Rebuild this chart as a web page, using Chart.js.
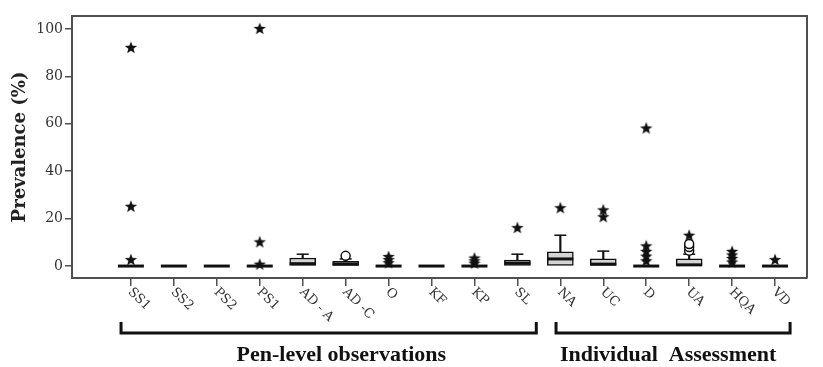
<!DOCTYPE html>
<html>
<head>
<meta charset="utf-8">
<script src="https://cdn.jsdelivr.net/npm/chart.js@4.4.1/dist/chart.umd.min.js"></script>
<style>
	html, body { margin: 0; padding: 0; background: #fff; }
	#wrap { width: 823px; height: 367px; }
</style>
</head>
<body>
<div id="wrap"><canvas id="boxChart"></canvas></div>
<script>
var categories = ['SS1', 'SS2', 'PS2', 'PS1', 'AD - A', 'AD -C', 'O', 'KF', 'KP', 'SL', 'NA', 'UC', 'D', 'UA', 'HQA', 'VD'];
var boxQ1     = [0, 0, 0, 0, 0,   0,   0, 0, 0, 0,   0,  0,   0, 0,   0, 0];
var boxMedian = [0, 0, 0, 0, 1,   0.8, 0, 0, 0, 1.2, 3,  0.8, 0, 0.5, 0, 0];
var boxQ3     = [0, 0, 0, 0, 3.4, 2,   0, 0, 0, 2.5, 6,  3,   0, 3,   0, 0];
var whiskerHi = [0, 0, 0, 0, 5,   3,   0, 0, 0, 5,   13, 6.3, 0, 5,   0, 0];

// extreme values (stars) and outliers (circles): [category index, value]
var starPoints = [
	[0, 92], [0, 25], [0, 2.5],
	[3, 100], [3, 10], [3, 0.6],
	[6, 1.2], [6, 2.5], [6, 3.8],
	[8, 1], [8, 2], [8, 3.2],
	[9, 16],
	[10, 24.4],
	[11, 20.6], [11, 23.5],
	[12, 2], [12, 4], [12, 6], [12, 8.3], [12, 58],
	[13, 12.8],
	[14, 1.5], [14, 3], [14, 4.5], [14, 6],
	[15, 2.5]
];
var circlePoints = [[5, 4.3], [13, 6.5], [13, 8], [13, 9.3]];

var yTicks = [0, 20, 40, 60, 80, 100];
var groups = [
	{ label: 'Pen-level observations', from: -0.23, to: 9.44, center: 4.9 },
	{ label: 'Individual  Assessment', from: 9.9, to: 15.35, center: 12.51 }
];

// 5-point star marker
function makeStar(size) {
	var c = document.createElement('canvas');
	c.width = size; c.height = size;
	var g = c.getContext('2d');
	var cx = size / 2, cy = size / 2, ro = size / 2 - 0.5, ri = ro * 0.42;
	g.beginPath();
	for (var k = 0; k < 10; k++) {
		var r = k % 2 === 0 ? ro : ri;
		var a = -Math.PI / 2 + k * Math.PI / 5;
		if (k === 0) g.moveTo(cx + r * Math.cos(a), cy + r * Math.sin(a));
		else g.lineTo(cx + r * Math.cos(a), cy + r * Math.sin(a));
	}
	g.closePath();
	g.fillStyle = '#111';
	g.fill();
	return c;
}
var starImg = makeStar(14);

var boxData = [], stemData = [], capData = [], medianData = [];
for (var i = 0; i < categories.length; i++) {
	if (boxQ3[i] > boxQ1[i]) boxData.push({ x: i, y: [boxQ1[i], boxQ3[i]] });
	if (whiskerHi[i] > boxQ3[i]) {
		stemData.push({ x: i, y: [boxQ3[i], whiskerHi[i]] });
		capData.push({ x: i, y: whiskerHi[i] });
	}
	medianData.push({ x: i, y: boxMedian[i] });
}

var axisColor = '#505050';

var framePlugin = {
	id: 'frame',
	afterDraw: function(chart) {
		var ctx = chart.ctx, a = chart.chartArea, xs = chart.scales.x;
		ctx.save();
		// top and right border
		ctx.strokeStyle = axisColor;
		ctx.lineWidth = 2;
		ctx.beginPath();
		ctx.moveTo(a.left, a.top);
		ctx.lineTo(a.right, a.top);
		ctx.lineTo(a.right, a.bottom);
		ctx.stroke();

		// rotated category labels
		ctx.fillStyle = '#333';
		ctx.font = '13px "DejaVu Serif"';
		ctx.textAlign = 'left';
		ctx.textBaseline = 'middle';
		for (var i = 0; i < categories.length; i++) {
			var px = xs.getPixelForValue(i);
			ctx.save();
			ctx.translate(px - 1, a.bottom + 12);
			ctx.rotate(Math.PI / 4);
			ctx.fillText(categories[i], 0, 0);
			ctx.restore();
		}

		// group brackets
		ctx.strokeStyle = '#111';
		ctx.lineWidth = 3;
		ctx.fillStyle = '#111';
		ctx.font = 'bold 22px "Liberation Serif"';
		ctx.textAlign = 'center';
		groups.forEach(function(gr) {
			var x1 = xs.getPixelForValue(gr.from), x2 = xs.getPixelForValue(gr.to);
			ctx.beginPath();
			ctx.moveTo(x1, 322);
			ctx.lineTo(x1, 333);
			ctx.lineTo(x2, 333);
			ctx.lineTo(x2, 322);
			ctx.stroke();
			ctx.fillText(gr.label, xs.getPixelForValue(gr.center), 355);
		});
		ctx.restore();
	}
};

var ctx = document.getElementById('boxChart').getContext('2d');
var box_chart = new Chart(ctx, {
	type: 'bar',
	data: {
		datasets: [{
			type: 'bar',
			data: boxData,
			grouped: false,
			barThickness: 26,
			backgroundColor: '#d4d4d4',
			borderColor: '#111',
			borderWidth: 1.5,
			borderSkipped: false,
			order: 3
		}, {
			type: 'bar',
			data: stemData,
			grouped: false,
			barThickness: 1.5,
			backgroundColor: '#111',
			borderWidth: 0,
			order: 4
		}, {
			type: 'scatter',
			data: capData,
			pointStyle: 'line',
			radius: 6,
			borderWidth: 1.5,
			borderColor: '#111',
			order: 4
		}, {
			type: 'scatter',
			data: medianData,
			pointStyle: 'line',
			radius: 13,
			borderWidth: 3,
			borderColor: '#111',
			order: 2
		}, {
			type: 'scatter',
			data: starPoints.map(function(p) { return { x: p[0], y: p[1] }; }),
			pointStyle: starImg,
			order: 1
		}, {
			type: 'scatter',
			data: circlePoints.map(function(p) { return { x: p[0], y: p[1] }; }),
			pointStyle: 'circle',
			radius: 4.5,
			borderWidth: 1.5,
			borderColor: '#111',
			backgroundColor: '#fff',
			order: 1
		}]
	},
	options: {
		responsive: true,
		maintainAspectRatio: false,
		animation: false,
		layout: { padding: { top: 15, right: 15, left: 0, bottom: 0 } },
		plugins: {
			legend: { display: false },
			tooltip: { enabled: false }
		},
		scales: {
			x: {
				type: 'linear',
				min: -1.372,
				max: 15.744,
				offset: false,
				afterBuildTicks: function(scale) {
					scale.ticks = categories.map(function(c, i) { return { value: i }; });
				},
				afterFit: function(scale) { scale.height = 89; },
				grid: {
					display: true,
					offset: false,
					drawOnChartArea: false,
					drawTicks: true,
					tickLength: 8,
					color: axisColor,
					lineWidth: 1.5
				},
				border: { display: true, color: axisColor, width: 2 },
				ticks: { display: false }
			},
			y: {
				min: -5.04,
				max: 105.46,
				afterBuildTicks: function(scale) {
					scale.ticks = yTicks.map(function(v) { return { value: v }; });
				},
				afterFit: function(scale) { scale.width = 72; },
				grid: {
					display: true,
					drawOnChartArea: false,
					drawTicks: true,
					tickLength: 7,
					color: axisColor,
					lineWidth: 1.5
				},
				border: { display: true, color: axisColor, width: 2 },
				ticks: {
					color: '#333',
					padding: 2,
					font: { family: 'DejaVu Serif', size: 14 }
				},
				title: {
					display: true,
					text: 'Prevalence (%)',
					color: '#222',
					padding: { top: 10, bottom: 4 },
					font: { family: 'DejaVu Serif', size: 18, weight: 'bold' }
				}
			}
		}
	},
	plugins: [framePlugin]
});
</script>
</body>
</html>
